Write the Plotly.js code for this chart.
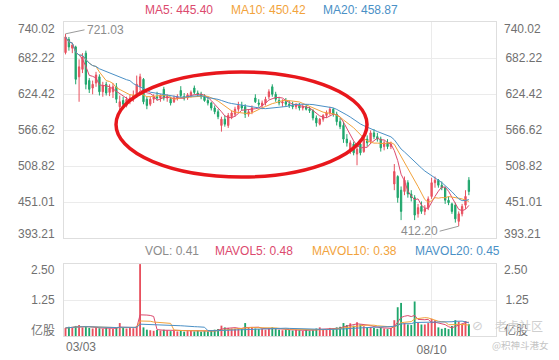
<!DOCTYPE html>
<html><head><meta charset="utf-8">
<script src="https://cdn.plot.ly/plotly-3.0.1.min.js"></script>
<style>html,body{margin:0;padding:0;background:#fff;}#chart{width:559px;height:360px;}</style>
</head><body><div id="chart"></div>
<script>
// ---- data ----
const opens  = [691,712,698,700,652,664,690,646,634,642,652,628,640,627,628,636,604,614,606,614,
                616,622,636,648,616,608,616,620,618,632,618,616,612,618,630,620,618,622,634,626,
                624,620,614,610,602,596,574,584,574,588,592,600,606,604,592,596,618,610,606,610,
                620,636,624,614,610,612,608,606,604,606,602,604,600,598,586,576,584,590,594,600,
                592,580,574,552,534,544,528,544,532,552,548,562,556,552,540,546,540,480,492,470,
                468,482,464,458,432,444,436,442,460,482,486,478,474,454,448,446,420,432,446,486];
const highs  = [721.03,716,706,702,680,690,694,650,646,660,656,644,644,640,642,642,622,620,620,624,
                630,654,657,650,620,620,624,628,624,636,624,620,622,624,637,626,626,630,638,630,
                628,624,620,612,606,600,588,590,594,598,604,612,612,608,600,606,624,616,614,620,
                632,640,628,620,616,618,614,612,610,610,608,608,604,600,590,586,592,598,604,602,
                596,586,580,560,550,548,542,548,556,558,566,568,562,556,550,552,548,512,494,476,
                492,486,470,462,448,452,446,460,490,492,488,484,476,460,450,450,436,448,470,491];
const lows   = [688,694,690,640,612,658,632,626,624,636,622,620,622,621,618,610,598,602,603,608,
                612,618,630,608,600,605,610,614,612,614,612,606,610,614,619,614,615,619,624,620,
                616,612,606,598,592,584,564,572,570,584,588,596,598,586,588,592,610,604,600,606,
                616,620,612,606,604,604,602,600,600,598,598,598,594,582,572,574,580,586,590,588,
                574,568,546,540,528,526,510,526,530,540,544,552,548,532,534,536,536,470,450,422,
                462,458,452,422,426,432,430,438,456,474,474,470,448,446,432,418,412.20,428,440,462];
const closes = [716,700,703,648,668,684,640,632,640,655,628,638,626,634,636,616,612,608,616,618,
                622,640,652,612,606,616,620,618,622,618,620,610,618,620,622,618,623,627,627,624,
                620,614,610,602,596,588,584,576,590,594,600,606,602,592,596,602,612,608,610,616,
                628,624,616,610,612,608,606,604,607,602,604,600,598,586,578,584,590,594,600,592,
                580,572,552,546,546,530,536,530,552,546,562,556,552,538,546,540,544,500,458,436,
                486,464,458,430,442,436,440,456,482,486,478,474,454,450,436,424,432,444,460,468];
const volumes = [0.28,0.32,0.30,0.35,0.38,0.30,0.33,0.28,0.26,0.30,0.27,0.25,0.29,0.26,0.24,0.30,0.45,0.28,0.26,0.30,
                 0.27,0.35,2.50,0.30,0.22,0.20,0.18,0.21,0.19,0.22,0.20,0.17,0.18,0.16,0.19,0.15,0.17,0.18,0.16,0.20,
                 0.15,0.17,0.16,0.19,0.22,0.24,0.36,0.30,0.28,0.26,0.25,0.27,0.24,0.45,0.28,0.30,0.26,0.24,0.25,0.22,
                 0.28,0.30,0.24,0.22,0.20,0.23,0.21,0.19,0.22,0.20,0.18,0.21,0.19,0.20,0.26,0.30,0.24,0.22,0.28,0.24,
                 0.30,0.32,0.45,0.38,0.44,0.36,0.48,0.40,0.34,0.30,0.32,0.28,0.25,0.30,0.26,0.24,0.28,0.55,1.00,1.15,
                 0.45,0.40,0.38,1.20,0.45,0.40,0.40,0.45,0.60,0.55,0.30,0.25,0.28,0.24,0.35,0.55,0.50,0.42,0.52,0.41];
const dateTickIdx  = [0, 108];
const dateTickText = ['03/03', '08/10'];
const priceTicks = [740.02, 682.22, 624.42, 566.62, 508.82, 451.01, 393.21];
const priceTickText = ['740.02','682.22','624.42','566.62','508.82','451.01','393.21'];
const volTicks = [2.5, 1.25, 0];
const volTickText = ['2.50', '1.25', '亿股'];
const maPeriods = [5, 10, 20];
const maLabels = ['MA5: 445.40', 'MA10: 450.42', 'MA20: 458.87'];
const volLabels = ['VOL: 0.41', 'MAVOL5: 0.48', 'MAVOL10: 0.38', 'MAVOL20: 0.45'];
const markIdx = [0, 116];
const markValue = [721.03, 412.20];
const markText = ['721.03', '412.20'];
const watermark = ['老虎社区', '@积神斗港女'];

// ---- styles ----
const RED = '#e8505e', GREEN = '#1fa66c';
const MA_COLORS = ['#dc4a6e', '#f2a33c', '#4a90c6'];
const GRID = '#ebebeb', AXLINE = '#dedede', TXT = '#707070';
const FONT = 'Liberation Sans, Arial, Noto Sans CJK SC, sans-serif';

const idx = closes.map((_, i) => i);
function movingAvg(arr, n) {
  return arr.map((_, i) => {
    const s = Math.max(0, i - n + 1);
    let t = 0; for (let k = s; k <= i; k++) t += arr[k];
    return t / (i - s + 1);
  });
}
const volColors = closes.map((c, i) => c >= opens[i] ? RED : GREEN);

const traces = [{
  type: 'candlestick', x: idx, open: opens, high: highs, low: lows, close: closes,
  xaxis: 'x', yaxis: 'y', whiskerwidth: 0, hoverinfo: 'skip',
  increasing: {line: {color: RED, width: 1}, fillcolor: RED},
  decreasing: {line: {color: GREEN, width: 1}, fillcolor: GREEN}
}];
maPeriods.forEach((n, k) => traces.push({
  type: 'scatter', mode: 'lines', x: idx, y: movingAvg(closes, n), xaxis: 'x', yaxis: 'y',
  line: {color: MA_COLORS[k], width: 1}, hoverinfo: 'skip'
}));
traces.push({type: 'bar', x: idx, y: volumes, xaxis: 'x2', yaxis: 'y2', width: 0.55,
  marker: {color: volColors, line: {width: 0}}, hoverinfo: 'skip'});
maPeriods.forEach((n, k) => traces.push({
  type: 'scatter', mode: 'lines', x: idx, y: movingAvg(volumes, n), xaxis: 'x2', yaxis: 'y2',
  line: {color: MA_COLORS[k], width: 1}, hoverinfo: 'skip'
}));
// invisible carriers for the right-hand axes
traces.push({type: 'scatter', mode: 'markers', x: [0], y: [priceTicks[0]], xaxis: 'x', yaxis: 'y3',
  marker: {opacity: 0}, hoverinfo: 'skip'});
traces.push({type: 'scatter', mode: 'markers', x: [0], y: [0], xaxis: 'x2', yaxis: 'y4',
  marker: {opacity: 0}, hoverinfo: 'skip'});

const priceRange = [priceTicks[priceTicks.length - 1], priceTicks[0]];
const volRange = [volTicks[volTicks.length - 1], volTicks[0]];
const midP = priceTicks.slice(1, -1), midPT = priceTickText.slice(1, -1);
const midV = volTicks.slice(1, -1), midVT = volTickText.slice(1, -1);

const yBase = {showgrid: true, gridcolor: GRID, gridwidth: 1, zeroline: false, showline: true, mirror: true,
  linecolor: AXLINE, linewidth: 1, ticks: 'outside', ticklen: 6, tickcolor: 'rgba(0,0,0,0)',
  tickfont: {family: FONT, size: 12, color: TXT}, fixedrange: true};
const xBase = {range: [-0.45, 127], showgrid: true, gridcolor: GRID, zeroline: false, showline: true, mirror: true,
  linecolor: AXLINE, linewidth: 1, tickvals: [dateTickIdx[1]], ticktext: [dateTickText[1]],
  ticks: 'outside', ticklen: 3, tickcolor: 'rgba(0,0,0,0)', tickfont: {family: FONT, size: 12, color: TXT},
  rangeslider: {visible: false}, fixedrange: true};

const annotations = [];
// legend rows
const maX = [0.182, 0.383, 0.594];
maLabels.forEach((t, k) => annotations.push({xref: 'paper', yref: 'paper', x: maX[k], y: 1.038,
  xanchor: 'left', yanchor: 'middle', text: t, showarrow: false, font: {family: FONT, size: 12, color: MA_COLORS[k]}}));
const volX = [0.182, 0.346, 0.569, 0.807];
const volCols = ['#8c8c8c'].concat(MA_COLORS);
volLabels.forEach((t, k) => annotations.push({xref: 'paper', yref: 'paper', x: volX[k], y: 0.272,
  xanchor: 'left', yanchor: 'middle', text: t, showarrow: false, font: {family: FONT, size: 12, color: volCols[k]}}));
// edge tick labels (drawn inside the panel edges like the reference)
[[priceTicks[0], priceTickText[0], 'y', -7], [priceTicks[6], priceTickText[6], 'y', 4],
 [volTicks[0], volTickText[0], 'y2', -6], [volTicks[2], volTickText[2], 'y2', 6]].forEach(([v, t, yr, sh]) => {
  annotations.push({xref: 'paper', yref: yr, x: -0.0162, y: v, yshift: sh, xanchor: 'right', yanchor: 'middle',
    text: t, showarrow: false, font: {family: FONT, size: 12, color: TXT}});
  annotations.push({xref: 'paper', yref: yr, x: 1.0139, y: v, yshift: sh, xanchor: 'left', yanchor: 'middle',
    text: t, showarrow: false, font: {family: FONT, size: 12, color: TXT}});
});
// first date label (left aligned at panel edge)
annotations.push({xref: 'paper', yref: 'paper', x: 0, y: -0.035, xanchor: 'left', yanchor: 'middle',
  text: dateTickText[0], showarrow: false, font: {family: FONT, size: 12, color: TXT}});
// high / low markers
annotations.push({xref: 'x', yref: 'y', x: markIdx[0], y: markValue[0], text: markText[0], showarrow: true,
  arrowhead: 0, arrowwidth: 1, arrowcolor: '#9a9a9a', ax: 19, ay: -4, xanchor: 'left', yanchor: 'middle',
  standoff: 0, font: {family: FONT, size: 12, color: '#8c8c8c'}});
annotations.push({xref: 'x', yref: 'y', x: markIdx[1], y: markValue[1], text: markText[1], showarrow: true,
  arrowhead: 0, arrowwidth: 1, arrowcolor: '#9a9a9a', ax: -19, ay: 5, xanchor: 'right', yanchor: 'middle',
  standoff: 0, font: {family: FONT, size: 12, color: '#8c8c8c'}});
// watermark
annotations.push({xref: 'paper', yref: 'paper', x: 0.958, y: 0.035, xanchor: 'center', yanchor: 'middle',
  text: '⊘', showarrow: false, font: {family: 'DejaVu Sans, sans-serif', size: 13, color: '#d0d0d0'}});
annotations.push({xref: 'paper', yref: 'paper', x: 0.993, y: 0.035, xanchor: 'left', yanchor: 'middle',
  text: watermark[0], showarrow: false, font: {family: 'Noto Sans CJK SC, sans-serif', size: 12, color: '#cfcfcf'}});
annotations.push({xref: 'paper', yref: 'paper', x: 0.986, y: -0.029, xanchor: 'left', yanchor: 'middle',
  text: watermark[1], showarrow: false, font: {family: 'Noto Sans CJK SC, sans-serif', size: 9.5, color: '#c4c4c4'}});

const layout = {
  width: 559, height: 360, margin: {l: 64, r: 63, t: 22, b: 24},
  paper_bgcolor: '#fff', plot_bgcolor: '#fff', showlegend: false, boxgap: 0.45,
  font: {family: FONT, size: 12, color: TXT},
  xaxis: Object.assign({}, xBase, {anchor: 'y', domain: [0, 1], showticklabels: false}),
  xaxis2: Object.assign({}, xBase, {anchor: 'y2', domain: [0, 1], matches: 'x', showticklabels: true}),
  yaxis: Object.assign({}, yBase, {domain: [0.312, 1], range: priceRange, tickvals: midP, ticktext: midPT, side: 'left'}),
  yaxis3: Object.assign({}, yBase, {overlaying: 'y', range: priceRange, tickvals: midP, ticktext: midPT, side: 'right',
    showgrid: false, showline: false}),
  yaxis2: Object.assign({}, yBase, {domain: [0, 0.229], range: volRange, tickvals: midV, ticktext: midVT, side: 'left'}),
  yaxis4: Object.assign({}, yBase, {overlaying: 'y2', range: volRange, tickvals: midV, ticktext: midVT, side: 'right',
    showgrid: false, showline: false}),
  shapes: [{type: 'circle', xref: 'paper', yref: 'paper', x0: 0.1204, x1: 0.7014, y0: 0.5064, y1: 0.8408,
    line: {color: '#e8171c', width: 3.5}, fillcolor: 'rgba(0,0,0,0)'}],
  annotations: annotations
};
Plotly.newPlot('chart', traces, layout, {staticPlot: true, displayModeBar: false});
</script></body></html>
